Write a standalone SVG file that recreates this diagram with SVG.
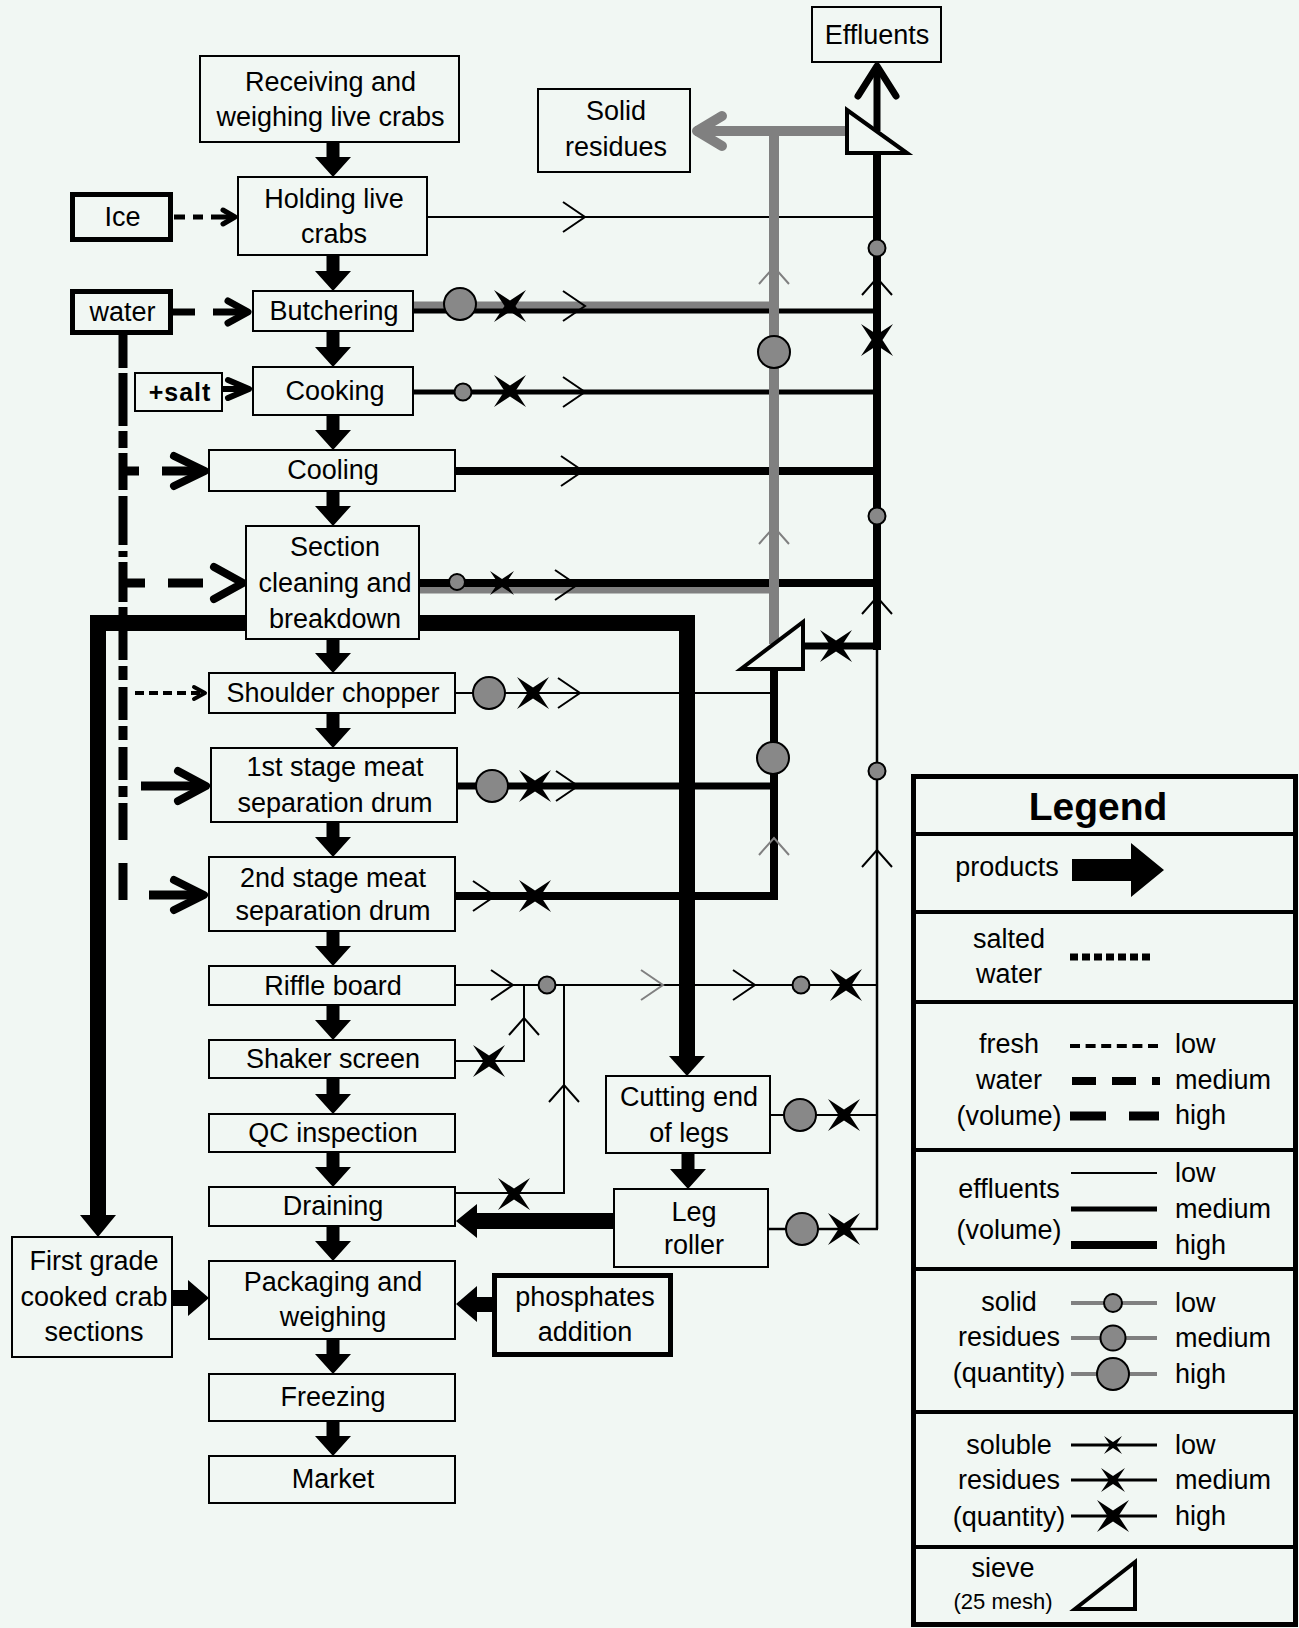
<svg xmlns="http://www.w3.org/2000/svg" xmlns:xlink="http://www.w3.org/1999/xlink" width="1299" height="1628" viewBox="0 0 1299 1628">
<defs>
<style>
.bx{fill:#f1f7f3;stroke:#000;stroke-width:2}
.tb{fill:#f1f7f3;stroke:#000;stroke-width:5}
text{font-family:"Liberation Sans",Arial,sans-serif;font-size:27px;fill:#000;text-anchor:middle}
text.l{text-anchor:start}
text.lg{font-size:39px;font-weight:bold}
text.sm{font-size:22px}
text.salt{font-size:25px;font-weight:bold;letter-spacing:1px}
.ef{fill:none;stroke:#000}
.gr{fill:none;stroke:#808080}
.cir{fill:#888;stroke:#000;stroke-width:2}
.wa{fill:none;stroke:#000;stroke-linecap:round;stroke-linejoin:round}
.ws{fill:none;stroke:#000}
.pa{fill:#000}
</style>
<path id="xH" d="M-16,-16L0,-5.5L16,-16L5.5,0L16,16L0,5.5L-16,16L-5.5,0Z" fill="#000"/>
<path id="xM" d="M-12,-12L0,-4L12,-12L4,0L12,12L0,4L-12,12L-4,0Z" fill="#000"/>
<path id="xL" d="M-9,-9L0,-3L9,-9L3,0L9,9L0,3L-9,9L-3,0Z" fill="#000"/>
<path id="chR" d="M-22,-15L0,0L-22,15" fill="none" stroke-width="2"/>
<path id="chU" d="M-15,17L0,0L15,17" fill="none" stroke-width="2"/>
</defs>
<rect width="1299" height="1628" fill="#f1f7f3"/>

<g id="connectors">
<path class="ef" stroke-width="2" d="M427,217H877"/>
<path class="gr" stroke-width="9" d="M413,306H774"/>
<path class="ef" stroke-width="5" d="M413,311H877"/>
<path class="ef" stroke-width="5" d="M413,392H877"/>
<path class="ef" stroke-width="8" d="M455,471H877"/>
<path class="gr" stroke-width="7" d="M419,590H774"/>
<path class="ef" stroke-width="8" d="M419,583H877"/>
<path class="ef" stroke-width="7" d="M803,646H881"/>
<path class="ef" stroke-width="2" d="M455,693H774"/>
<path class="ef" stroke-width="7" d="M457,786H774"/>
<path class="ef" stroke-width="8" d="M455,896H774V669"/>
<path class="ef" stroke-width="2" d="M455,985H877"/>
<path class="ef" stroke-width="2" d="M455,1061H524V985"/>
<path class="ef" stroke-width="2" d="M455,1193H564V985"/>
<path class="ef" stroke-width="2" d="M770,1115H877"/>
<path class="ef" stroke-width="2.5" d="M768,1229H878"/>
<path class="ef" stroke-width="8" d="M877,153V650"/>
<path class="ef" stroke-width="2.5" d="M877,646V1229"/>
<path class="gr" stroke-width="10" d="M774,131V644"/>
<path class="gr" stroke-width="10" d="M847,131H695"/>
<path class="gr" stroke-width="10" stroke-linecap="round" stroke-linejoin="round" d="M722,116L697,131L722,146"/>
<polygon points="847,110 847,153 907,153" fill="#f1f7f3" stroke="#000" stroke-width="4"/>
<polygon points="741,669 803,669 803,622" fill="#f1f7f3" stroke="#000" stroke-width="4"/>
<path class="ef" stroke-width="7" d="M877,131V68"/>
<path class="wa" stroke-width="7" d="M858,96L877,66L896,96"/>
<path class="ef" stroke-width="16" d="M98,1217V623H687V1058"/>
<path class="pa" d="M80,1215H116L98,1237Z"/>
<path class="pa" d="M669,1056H705L687,1076Z"/>
<circle class="cir" cx="460" cy="304" r="16"/>
<circle class="cir" cx="463" cy="392" r="8.5"/>
<circle class="cir" cx="457" cy="582" r="8"/>
<circle class="cir" cx="489" cy="693" r="16"/>
<circle class="cir" cx="492" cy="786" r="16"/>
<circle class="cir" cx="547" cy="985" r="8.5"/>
<circle class="cir" cx="801" cy="985" r="8.5"/>
<circle class="cir" cx="800" cy="1115" r="16"/>
<circle class="cir" cx="802" cy="1229" r="16"/>
<circle class="cir" cx="877" cy="248" r="8.5"/>
<circle class="cir" cx="877" cy="516" r="8.5"/>
<circle class="cir" cx="877" cy="771" r="8.5"/>
<circle class="cir" cx="774" cy="352" r="16"/>
<circle class="cir" cx="773" cy="758" r="16"/>
<use href="#xH" x="510" y="306"/>
<use href="#xH" x="510" y="391"/>
<use href="#xH" x="877" y="340"/>
<use href="#xH" x="533" y="693"/>
<use href="#xH" x="535" y="786"/>
<use href="#xH" x="535" y="896"/>
<use href="#xH" x="489" y="1061"/>
<use href="#xH" x="514" y="1194"/>
<use href="#xH" x="846" y="985"/>
<use href="#xH" x="844" y="1115"/>
<use href="#xH" x="844" y="1229"/>
<use href="#xH" x="836" y="646"/>
<use href="#xM" x="502" y="583"/>
<g stroke="#000">
<use href="#chR" x="585" y="217"/>
<use href="#chR" x="585" y="306"/>
<use href="#chR" x="585" y="392"/>
<use href="#chR" x="583" y="471"/>
<use href="#chR" x="577" y="585"/>
<use href="#chR" x="580" y="693"/>
<use href="#chR" x="578" y="786"/>
<use href="#chR" x="495" y="896"/>
<use href="#chR" x="513" y="985"/>
<use href="#chR" x="755" y="985"/>
<use href="#chU" x="877" y="278"/>
<use href="#chU" x="877" y="597"/>
<use href="#chU" x="877" y="850"/>
<use href="#chU" x="524" y="1018"/>
<use href="#chU" x="564" y="1085"/>
</g>
<g stroke="#808080">
<use href="#chR" x="663" y="985"/>
<use href="#chU" x="774" y="267"/>
<use href="#chU" x="774" y="527"/>
<use href="#chU" x="774" y="838"/>
</g>
<path class="ws" stroke-width="9" d="M123,335V368M123,373V426M123,431V448M123,453V490M123,496V545M123,551V557M123,562V602M123,607V660M123,666V680M123,687V720M123,726V740M123,747V780M123,786V797M123,803V840M123,863V900"/>
<path class="ws" stroke-width="5" d="M174,217H185M193,217H203M211,217H233"/>
<path class="wa" stroke-width="5" d="M223,210L235,217L223,224"/>
<path class="ws" stroke-width="7" d="M173,312H195M213,312H246"/>
<path class="wa" stroke-width="7" d="M228,301L248,312L228,323"/>
<path class="ws" stroke-width="6" d="M222,389H246"/>
<path class="wa" stroke-width="6" d="M228,380L249,389L228,398"/>
<path class="ws" stroke-width="9" d="M123,471H139M162,471H203"/>
<path class="wa" stroke-width="8" d="M174,456L205,471L174,486"/>
<path class="ws" stroke-width="9" d="M123,583H145M168,583H203"/>
<path class="wa" stroke-width="8" d="M214,567L243,583L214,599"/>
<path class="ws" stroke-width="4" stroke-dasharray="9 5" d="M135,693H201"/>
<path class="wa" stroke-width="4" d="M194,687L205,693L194,699"/>
<path class="ws" stroke-width="9" d="M141,786H204"/>
<path class="wa" stroke-width="8" d="M178,771L206,786L178,801"/>
<path class="ws" stroke-width="9" d="M149,895H202"/>
<path class="wa" stroke-width="8" d="M174,880L204,895L174,910"/>
<path class="pa" d="M326.5,142H339.5V157H351L333,177L315,157H326.5Z"/>
<path class="pa" d="M326.5,255H339.5V271H351L333,291L315,271H326.5Z"/>
<path class="pa" d="M326.5,331H339.5V347H351L333,367L315,347H326.5Z"/>
<path class="pa" d="M326.5,415H339.5V430H351L333,450L315,430H326.5Z"/>
<path class="pa" d="M326.5,491H339.5V506H351L333,526L315,506H326.5Z"/>
<path class="pa" d="M326.5,639H339.5V653H351L333,673L315,653H326.5Z"/>
<path class="pa" d="M326.5,713H339.5V728H351L333,748L315,728H326.5Z"/>
<path class="pa" d="M326.5,822H339.5V837H351L333,857L315,837H326.5Z"/>
<path class="pa" d="M326.5,931H339.5V946H351L333,966L315,946H326.5Z"/>
<path class="pa" d="M326.5,1005H339.5V1020H351L333,1040L315,1020H326.5Z"/>
<path class="pa" d="M326.5,1078H339.5V1094H351L333,1114L315,1094H326.5Z"/>
<path class="pa" d="M326.5,1152H339.5V1167H351L333,1187L315,1167H326.5Z"/>
<path class="pa" d="M326.5,1226H339.5V1241H351L333,1261L315,1241H326.5Z"/>
<path class="pa" d="M326.5,1339H339.5V1354H351L333,1374L315,1354H326.5Z"/>
<path class="pa" d="M326.5,1421H339.5V1436H351L333,1456L315,1436H326.5Z"/>
<path class="pa" d="M681.5,1153H694.5V1169H706L688,1189L670,1169H681.5Z"/>
<path class="pa" d="M614,1213V1229H477V1238L456,1221L477,1204V1213Z"/>
<path class="pa" d="M172,1290H188V1280L209,1298L188,1316V1306H172Z"/>
<path class="pa" d="M492,1297H477V1286L456,1304L477,1322V1312H492Z"/>
</g>

<g id="n-receiving"><rect class="bx" x="200" y="56" width="259" height="86"/><text x="330.5" y="91">Receiving and</text><text x="330.5" y="126">weighing live crabs</text></g>
<g id="n-holding"><rect class="bx" x="238" y="177" width="189" height="78"/><text x="334" y="208">Holding live</text><text x="334" y="243">crabs</text></g>
<g id="n-ice"><rect class="tb" x="72.5" y="194.5" width="98" height="45"/><text x="122.5" y="226">Ice</text></g>
<g id="n-water"><rect class="tb" x="72.5" y="291.5" width="98" height="41"/><text x="122.5" y="321">water</text></g>
<g id="n-salt"><rect class="bx" x="135" y="373" width="87" height="38"/><text class="salt" x="180" y="401">+salt</text></g>
<g id="n-butchering"><rect class="bx" x="253" y="291" width="160" height="40"/><text x="334" y="320">Butchering</text></g>
<g id="n-cooking"><rect class="bx" x="253" y="367" width="160" height="48"/><text x="335" y="400">Cooking</text></g>
<g id="n-cooling"><rect class="bx" x="209" y="450" width="246" height="41"/><text x="333" y="479">Cooling</text></g>
<g id="n-section"><rect class="bx" x="246" y="526" width="173" height="113"/><text x="335" y="556">Section</text><text x="335" y="592">cleaning and</text><text x="335" y="628">breakdown</text></g>
<g id="n-shoulder"><rect class="bx" x="209" y="673" width="246" height="40"/><text x="333" y="702">Shoulder chopper</text></g>
<g id="n-stage1"><rect class="bx" x="211" y="748" width="246" height="74"/><text x="335" y="776">1st stage meat</text><text x="335" y="812">separation drum</text></g>
<g id="n-stage2"><rect class="bx" x="209" y="857" width="246" height="74"/><text x="333" y="887">2nd stage meat</text><text x="333" y="920">separation drum</text></g>
<g id="n-riffle"><rect class="bx" x="209" y="966" width="246" height="39"/><text x="333" y="995">Riffle board</text></g>
<g id="n-shaker"><rect class="bx" x="209" y="1040" width="246" height="38"/><text x="333" y="1068">Shaker screen</text></g>
<g id="n-qc"><rect class="bx" x="209" y="1114" width="246" height="38"/><text x="333" y="1142">QC inspection</text></g>
<g id="n-draining"><rect class="bx" x="209" y="1187" width="246" height="39"/><text x="333" y="1215">Draining</text></g>
<g id="n-packaging"><rect class="bx" x="209" y="1261" width="246" height="78"/><text x="333" y="1291">Packaging and</text><text x="333" y="1326">weighing</text></g>
<g id="n-freezing"><rect class="bx" x="209" y="1374" width="246" height="47"/><text x="333" y="1406">Freezing</text></g>
<g id="n-market"><rect class="bx" x="209" y="1456" width="246" height="47"/><text x="333" y="1488">Market</text></g>
<g id="n-firstgrade"><rect class="bx" x="12" y="1237" width="160" height="120"/><text x="94" y="1270">First grade</text><text x="94" y="1306">cooked crab</text><text x="94" y="1341">sections</text></g>
<g id="n-phosphates"><rect class="tb" x="494.5" y="1275.5" width="176" height="79"/><text x="585" y="1306">phosphates</text><text x="585" y="1341">addition</text></g>
<g id="n-cutting"><rect class="bx" x="606" y="1076" width="164" height="77"/><text x="689" y="1106">Cutting end</text><text x="689" y="1142">of legs</text></g>
<g id="n-legroller"><rect class="bx" x="614" y="1189" width="154" height="78"/><text x="694" y="1221">Leg</text><text x="694" y="1254">roller</text></g>
<g id="n-solid"><rect class="bx" x="538" y="89" width="152" height="83"/><text x="616" y="120">Solid</text><text x="616" y="156">residues</text></g>
<g id="n-effluents"><rect class="bx" x="812" y="7" width="129" height="55"/><text x="877" y="44">Effluents</text></g>

<g id="legend">
<rect x="913.5" y="776.5" width="382" height="848" fill="none" stroke="#000" stroke-width="5"/>
<path fill="none" stroke="#000" stroke-width="4" d="M913,834H1296M913,912H1296M913,1002H1296M913,1150H1296M913,1269H1296M913,1412H1296M913,1547H1296"/>
<text class="lg" x="1098" y="820">Legend</text>
<text x="1007" y="876">products</text>
<path class="pa" d="M1072,859H1131V843L1164,870L1131,897V881H1072Z"/>
<text x="1009" y="948">salted</text><text x="1009" y="983">water</text>
<path class="ws" stroke-width="7" stroke-dasharray="8 4" d="M1070,957H1154"/>
<text x="1009" y="1053">fresh</text><text x="1009" y="1089">water</text><text x="1009" y="1125">(volume)</text>
<path class="ws" stroke-width="4" stroke-dasharray="10 5.6" d="M1070,1046H1158"/>
<path class="ws" stroke-width="8" stroke-dasharray="24 16" d="M1072,1081H1160"/>
<path class="ws" stroke-width="9" stroke-dasharray="36 23" d="M1070,1116H1159"/>
<text class="l" x="1175" y="1053">low</text><text class="l" x="1175" y="1089">medium</text><text class="l" x="1175" y="1124">high</text>
<text x="1009" y="1198">effluents</text><text x="1009" y="1239">(volume)</text>
<path class="ws" stroke-width="2" d="M1071,1173H1157"/>
<path class="ws" stroke-width="5" d="M1071,1209H1157"/>
<path class="ws" stroke-width="8" d="M1071,1245H1157"/>
<text class="l" x="1175" y="1182">low</text><text class="l" x="1175" y="1218">medium</text><text class="l" x="1175" y="1254">high</text>
<text x="1009" y="1311">solid</text><text x="1009" y="1346">residues</text><text x="1009" y="1382">(quantity)</text>
<path class="gr" stroke-width="4" d="M1071,1303H1157M1071,1338H1157M1071,1374H1157"/>
<circle class="cir" cx="1113" cy="1303" r="9"/>
<circle class="cir" cx="1113" cy="1338" r="12.5"/>
<circle class="cir" cx="1113" cy="1374" r="16"/>
<text class="l" x="1175" y="1312">low</text><text class="l" x="1175" y="1347">medium</text><text class="l" x="1175" y="1383">high</text>
<text x="1009" y="1454">soluble</text><text x="1009" y="1489">residues</text><text x="1009" y="1526">(quantity)</text>
<path class="ws" stroke-width="3" d="M1071,1445H1157M1071,1480H1157M1071,1516H1157"/>
<use href="#xL" x="1113" y="1445"/>
<use href="#xM" x="1113" y="1480"/>
<use href="#xH" x="1113" y="1516"/>
<text class="l" x="1175" y="1454">low</text><text class="l" x="1175" y="1489">medium</text><text class="l" x="1175" y="1525">high</text>
<text x="1003" y="1577">sieve</text>
<text class="sm" x="1003" y="1609">(25 mesh)</text>
<polygon points="1075,1609 1135,1609 1135,1562" fill="none" stroke="#000" stroke-width="4"/>
</g>
</svg>
